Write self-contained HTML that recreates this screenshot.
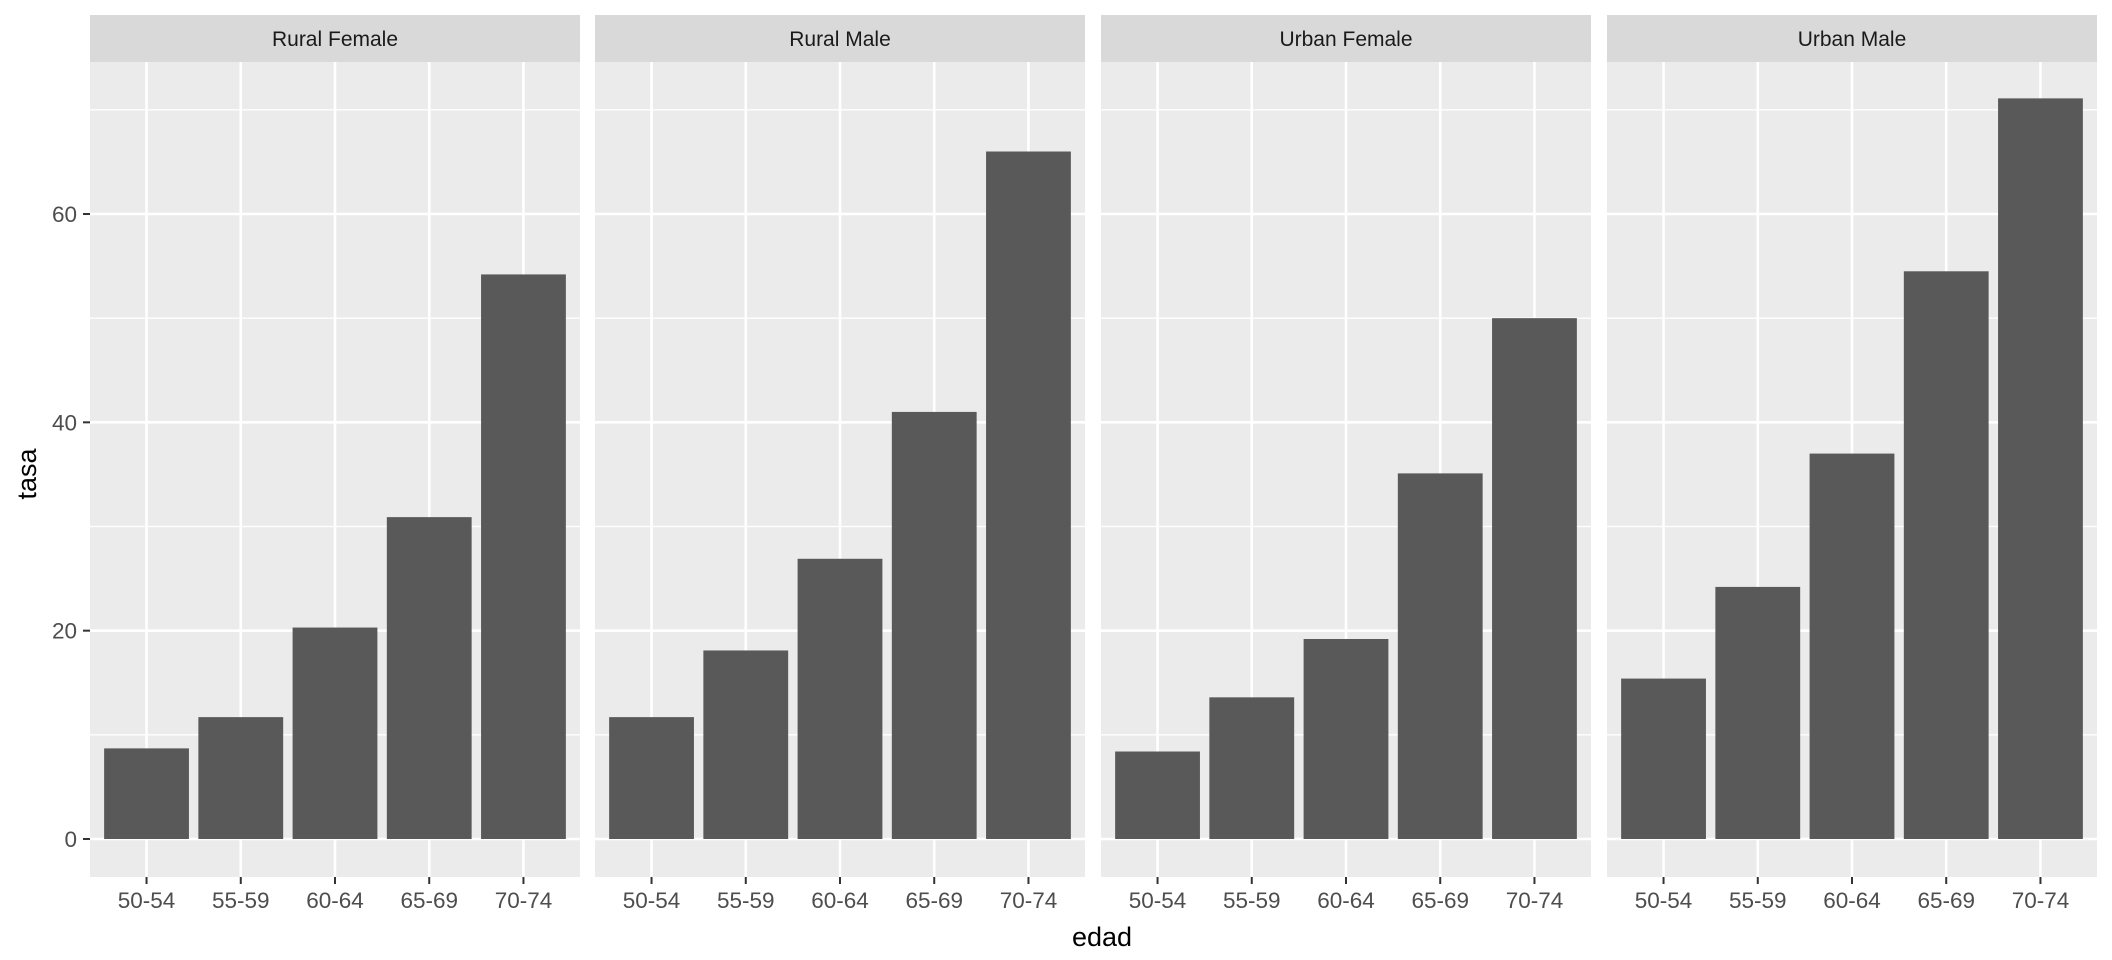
<!DOCTYPE html>
<html><head><meta charset="utf-8"><style>
html,body{margin:0;padding:0;background:#fff;}
svg{display:block;font-family:"Liberation Sans",Arial,sans-serif;}
</style></head><body>
<svg id="chart" width="2112" height="960" viewBox="0 0 2112 960" xmlns="http://www.w3.org/2000/svg"></svg>
<script>
const categories = ["50-54","55-59","60-64","65-69","70-74"];
const panelNames = ["Rural Female","Rural Male","Urban Female","Urban Male"];
const ruralFemale = [8.7, 11.7, 20.3, 30.9, 54.2];
const ruralMale = [11.7, 18.1, 26.9, 41.0, 66.0];
const urbanFemale = [8.4, 13.6, 19.2, 35.1, 50.0];
const urbanMale = [15.4, 24.2, 37.0, 54.5, 71.1];
const yTicks = [0, 20, 40, 60];
const yMinorTicks = [10, 30, 50, 70];
const series = [ruralFemale, ruralMale, urbanFemale, urbanMale];

const NS = "http://www.w3.org/2000/svg";
const svg = document.getElementById("chart");
function mk(tag, attrs, parent){
  const e = document.createElementNS(NS, tag);
  for (const k in attrs) e.setAttribute(k, attrs[k]);
  (parent||svg).appendChild(e);
  return e;
}
const panelLefts = [90, 595, 1101, 1607];
const panelW = 490;
const stripTop = 15, plotTop = 62, plotBottom = 877;
const yZero = 839, yPer = (839 - 214) / 60;
function yScale(v){ return yZero - v * yPer; }
function xScale(p, i){ return panelLefts[p] + (i + 1 - 0.4) * panelW / 5.2; }
const unit = panelW / 5.2;

panelNames.forEach((name, p) => {
  const g = mk("g", {});
  
  
  const L = panelLefts[p];
  const bg = mk("rect", {x:L, y:plotTop, width:panelW, height:plotBottom-plotTop, fill:"#EBEBEB"}, g);
  
  
  yMinorTicks.forEach(v => {
    const y = yScale(v);
    const l = mk("line", {x1:L, x2:L+panelW, y1:y, y2:y, stroke:"#fff", "stroke-width":1.3}, g);
    
    
  });
  yTicks.forEach(v => {
    const y = yScale(v);
    const l = mk("line", {x1:L, x2:L+panelW, y1:y, y2:y, stroke:"#fff", "stroke-width":2.6}, g);
    
    
  });
  categories.forEach((c, i) => {
    const x = xScale(p, i);
    const l = mk("line", {x1:x, x2:x, y1:plotTop, y2:plotBottom, stroke:"#fff", "stroke-width":2.6}, g);
    
    
  });
  const vals = series[p];
  vals.forEach((v, i) => {
    const x = xScale(p, i);
    const r = mk("rect", {x:x - 0.45*unit, y:yScale(v), width:0.9*unit, height:yZero - yScale(v), fill:"#595959"}, g);
    
    
  });
  categories.forEach((c, i) => {
    const x = xScale(p, i);
    const t = mk("line", {x1:x, x2:x, y1:plotBottom, y2:plotBottom+7, stroke:"#333", "stroke-width":2}, g);
    
    
    const lab = mk("text", {x:x, y:908, "text-anchor":"middle", "font-size":22.5, fill:"#4D4D4D"}, g);
    lab.textContent = c;
    
    
  });
  const strip = mk("rect", {x:L, y:stripTop, width:panelW, height:plotTop-stripTop, fill:"#D9D9D9"}, g);
  
  
  const st = mk("text", {x:L+panelW/2, y:stripTop+31, "text-anchor":"middle", "font-size":21, fill:"#1A1A1A"}, g);
  st.textContent = name;
  
  
});

yTicks.forEach(v => {
  const y = yScale(v);
  const t = mk("line", {x1:83, x2:90, y1:y, y2:y, stroke:"#333", "stroke-width":2});
  
  
  const lab = mk("text", {x:77, y:y+8, "text-anchor":"end", "font-size":22.5, fill:"#4D4D4D"});
  lab.textContent = v;
  
  
});
const xt = mk("text", {x:1102, y:946, "text-anchor":"middle", "font-size":27, fill:"#000"});
xt.textContent = "edad";


const yt = mk("text", {x:0, y:0, "text-anchor":"middle", "font-size":27, fill:"#000", transform:"translate(36,474) rotate(-90)"});
yt.textContent = "tasa";


</script>
</body></html>
